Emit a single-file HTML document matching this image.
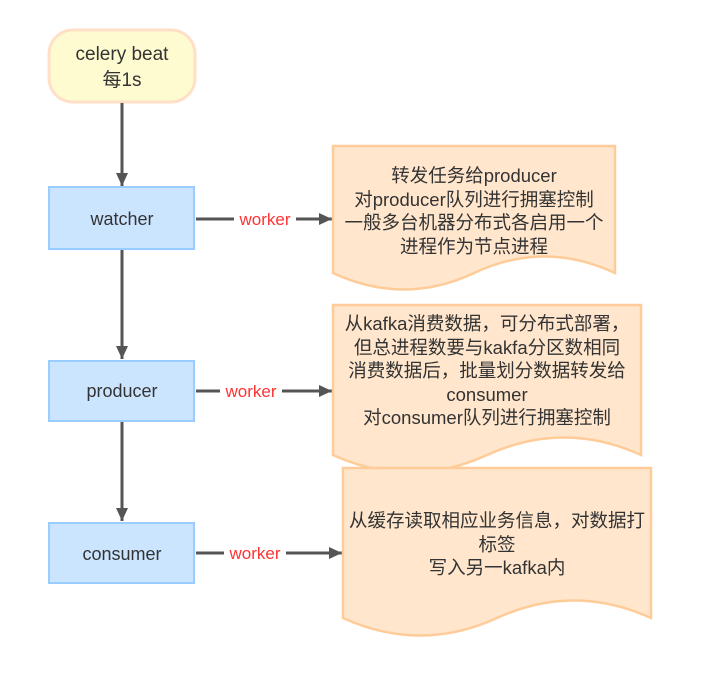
<!DOCTYPE html>
<html><head><meta charset="utf-8"><style>
html,body{margin:0;padding:0;background:#fff;}
svg{display:block;}
text{font-family:"Liberation Sans","Noto Sans CJK SC",sans-serif;fill:#333;}
.d{font-size:18.5px;text-anchor:middle;}
.n{font-size:18px;text-anchor:middle;}
.w{font-size:17px;fill:#f33;text-anchor:middle;}
</style></head><body>
<svg width="722" height="682" viewBox="0 0 722 682">
<defs><marker id="a" markerWidth="10" markerHeight="10" refX="9" refY="5" orient="auto" markerUnits="userSpaceOnUse"><path d="M0,0 L10,5 L0,10 Z" fill="#555"/></marker>
<marker id="b" markerWidth="14" markerHeight="14" refX="13" refY="6" orient="auto" markerUnits="userSpaceOnUse"><path d="M0,0 L13,6 L0,12 Z" fill="#555"/></marker></defs>
<!-- celery beat -->
<rect x="49" y="30" width="146" height="72" rx="24" fill="#fffbd0" stroke="#ffe0c6" stroke-width="3"/>
<text class="n" x="122" y="60" style="font-size:19px">celery beat</text>
<text class="n" x="122" y="86" style="font-size:19px">每1s</text>
<!-- vertical connectors -->
<line x1="122" y1="103" x2="122" y2="186" stroke="#555" stroke-width="3" marker-end="url(#b)"/>
<line x1="122" y1="250" x2="122" y2="359" stroke="#555" stroke-width="3" marker-end="url(#b)"/>
<line x1="122" y1="422" x2="122" y2="521" stroke="#555" stroke-width="3" marker-end="url(#b)"/>
<!-- boxes -->
<rect x="49" y="187" width="145" height="62" fill="#cce5ff" stroke="#99ccff" stroke-width="2"/>
<text class="n" x="122" y="225">watcher</text>
<rect x="49" y="361" width="145" height="60" fill="#cce5ff" stroke="#99ccff" stroke-width="2"/>
<text class="n" x="122" y="397">producer</text>
<rect x="49" y="523" width="145" height="60" fill="#cce5ff" stroke="#99ccff" stroke-width="2"/>
<text class="n" x="122" y="560">consumer</text>
<!-- horizontal connectors -->
<line x1="196" y1="219" x2="332" y2="219" stroke="#555" stroke-width="3" marker-end="url(#b)"/>
<rect x="234" y="208" width="62" height="22" fill="#fff"/>
<text class="w" x="265" y="225">worker</text>
<line x1="196" y1="391" x2="332" y2="391" stroke="#555" stroke-width="3" marker-end="url(#b)"/>
<rect x="220" y="380" width="62" height="22" fill="#fff"/>
<text class="w" x="251" y="397">worker</text>
<line x1="196" y1="553" x2="342" y2="553" stroke="#555" stroke-width="3" marker-end="url(#b)"/>
<rect x="224" y="542" width="62" height="22" fill="#fff"/>
<text class="w" x="255" y="559">worker</text>
<!-- documents -->
<path d="M333,146 L615,146 L615,273 Q544,240 474,273 Q404,306 333,273 Z" fill="#ffe6cc" stroke="#ffcc99" stroke-width="2.5"/>
<path d="M333,305 L641,305 L641,455 Q564,420 487,455 Q410,490 333,455 Z" fill="#ffe6cc" stroke="#ffcc99" stroke-width="2.5"/>
<path d="M343,468 L651,468 L651,618 Q574,583 497,618 Q420,653 343,618 Z" fill="#ffe6cc" stroke="#ffcc99" stroke-width="2.5"/>
<text class="d" x="474" y="182">转发任务给producer</text>
<text class="d" x="474" y="206">对producer队列进行拥塞控制</text>
<text class="d" x="474" y="229">一般多台机器分布式各启用一个</text>
<text class="d" x="474" y="253">进程作为节点进程</text>
<text class="d" x="487" y="330">从kafka消费数据，可分布式部署，</text>
<text class="d" x="487" y="354">但总进程数要与kakfa分区数相同</text>
<text class="d" x="487" y="377">消费数据后，批量划分数据转发给</text>
<text class="d" x="487" y="401">consumer</text>
<text class="d" x="487" y="424">对consumer队列进行拥塞控制</text>
<text class="d" x="497" y="527">从缓存读取相应业务信息，对数据打</text>
<text class="d" x="497" y="551">标签</text>
<text class="d" x="497" y="574">写入另一kafka内</text>
</svg>
</body></html>
